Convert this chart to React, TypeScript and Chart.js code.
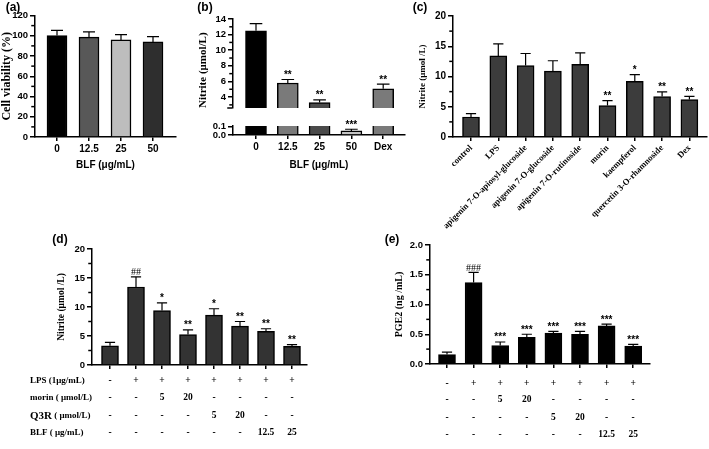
import React, { useEffect, useRef } from "react";
import { Chart, registerables } from "chart.js";

Chart.register(...registerables);

const SANS = "'Liberation Sans', Arial, Helvetica, sans-serif";
const SERIF = "'Liberation Serif', 'Times New Roman', Times, serif";

// ---------------- data ----------------
// (a) cell viability
const viabilityDoses = ["0", "12.5", "25", "50"];
const viabilityValues = [100.2, 98.6, 95.9, 93.9];
const viabilityErrors = [5.2, 5.2, 5.3, 5.3];
const viabilityMarks = ["", "", "", ""];
const viabilityColors = ["#000000", "#585858", "#bdbdbd", "#2e2e2e"];
const viabilityTicks = [0, 20, 40, 60, 80, 100, 120];

// (b) nitrite vs BLF (broken axis)
const blfNitriteLabels = ["0", "12.5", "25", "50", "Dex"];
const blfNitriteValues = [12.5, 5.8, 3.3, 0.05, 5.05];
const blfNitriteErrors = [0.9, 0.45, 0.35, 0.02, 0.6];
const blfNitriteMarks = ["", "**", "**", "***", "**"];
const blfNitriteColors = ["#000000", "#7a7a7a", "#4a4a4a", "#c4c4c4", "#7a7a7a"];
const blfUpperTicks = [4, 6, 8, 10, 12, 14];
const blfLowerTicks = [0, 0.1];

// (c) nitrite vs compounds
const compoundLabels = [
  "control",
  "LPS",
  "apigenin 7-O-apiosyl-glucoside",
  "apigenin 7-O-glucoside",
  "apigenin 7-O-rutinoside",
  "morin",
  "kaempferol",
  "quercetin 3-O-rhamnoside",
  "Dex",
];
const compoundValues = [3.3, 13.4, 11.8, 10.9, 12.0, 5.2, 9.2, 6.7, 6.2];
const compoundErrors = [0.55, 2.0, 2.0, 1.7, 1.9, 0.8, 1.1, 0.75, 0.5];
const compoundMarks = ["", "", "", "", "", "**", "*", "**", "**"];
const nitriteTicks = [0, 5, 10, 15, 20];

// (d) nitrite vs treatments
const treatmentNitriteValues = [3.3, 13.45, 9.4, 5.25, 8.6, 6.7, 5.8, 3.2];
const treatmentNitriteErrors = [0.6, 1.75, 1.3, 0.8, 1.1, 0.8, 0.45, 0.3];
const treatmentNitriteMarks = ["", "##", "*", "**", "*", "**", "**", "**"];

// (e) PGE2 vs treatments
const pge2Values = [0.16, 1.37, 0.31, 0.45, 0.52, 0.5, 0.64, 0.3];
const pge2Errors = [0.04, 0.17, 0.06, 0.05, 0.03, 0.05, 0.03, 0.03];
const pge2Marks = ["", "###", "***", "***", "***", "***", "***", "***"];
const pge2Ticks = [0, 0.5, 1, 1.5, 2];

// treatment table
const treatmentRowLabels = ["LPS (1μg/mL)", "morin ( μmol/L)", "Q3R ( μmol/L)", "BLF ( μg/mL)"];
const lpsRow = ["-", "+", "+", "+", "+", "+", "+", "+"];
const morinRow = ["-", "-", "5", "20", "-", "-", "-", "-"];
const q3rRow = ["-", "-", "-", "-", "5", "20", "-", "-"];
const blfRow = ["-", "-", "-", "-", "-", "-", "12.5", "25"];
const treatmentRows = [lpsRow, morinRow, q3rRow, blfRow];
const emptyLabels8 = ["", "", "", "", "", "", "", ""];

// ---------------- panel machinery ----------------
type Box = { x: number; y: number; w: number; h: number };
type Area = { l: number; t: number; r: number; b: number };
type TextItem = { text: string; x: number; y: number; font: string; align?: CanvasTextAlign };

interface PanelSpec {
  box: Box;
  area: Area;
  padLeft: number;
  values: number[];
  errors: number[];
  marks: string[];
  colors: string | string[];
  barWidth: number;
  firstX: number;
  stepX: number;
  xLabels: string[];
  xFont: { family: string; size: number; weight: string };
  xRotation: number;
  showX: boolean;
  xTitle?: string;
  yMin: number;
  yMax: number;
  yTicks: number[];
  yLabel: (v: number) => string;
  yMinorStep?: number;
  yEndTicks?: number[];
  yTitle?: string;
  yTitleSize?: number;
  yTitleAlign?: "start" | "center";
  yTickSize: number;
  texts: TextItem[];
  table?: {
    rows: string[][];
    ys: number[];
    rowLabels?: string[];
    rowLabelX?: number;
    leadSizes?: number[];
  };
  clip?: boolean;
}

function createPanel(canvas: HTMLCanvasElement, p: PanelSpec): Chart {
  const { box, area } = p;
  const yWidth = area.l - box.x - p.padLeft;
  const xHeight = box.y + box.h - area.b;
  const xMin = (area.l - p.firstX) / p.stepX;
  const xMax = (area.r - p.firstX) / p.stepX;
  const idx = p.values.map((_, i) => i);

  const extras = {
    id: "extras",
    afterDatasetsDraw(chart: any) {
      const ctx = chart.ctx as CanvasRenderingContext2D;
      const ys = chart.scales.y;
      const meta = chart.getDatasetMeta(0);
      ctx.save();
      ctx.strokeStyle = "#000";
      ctx.fillStyle = "#000";
      ctx.lineWidth = 1.2;
      ctx.textAlign = "center";
      ctx.textBaseline = "alphabetic";
      meta.data.forEach((el: any, i: number) => {
        const v = p.values[i];
        if (v < ys.min || v > ys.max) return;
        const e = p.errors[i] || 0;
        const x = el.x;
        const half = el.width * 0.3;
        const y0 = ys.getPixelForValue(v);
        const y1 = ys.getPixelForValue(v + e);
        ctx.beginPath();
        ctx.moveTo(x, y0);
        ctx.lineTo(x, y1);
        ctx.moveTo(x - half, y1);
        ctx.lineTo(x + half, y1);
        ctx.stroke();
        const m = p.marks[i];
        if (m) {
          ctx.font = m.startsWith("#") ? `10px ${SERIF}` : `bold 10px ${SANS}`;
          ctx.fillText(m, x, y1 - 1.5);
        }
      });
      ctx.restore();
    },
    afterDraw(chart: any) {
      const ctx = chart.ctx as CanvasRenderingContext2D;
      const ys = chart.scales.y;
      const xs = chart.scales.x;
      ctx.save();
      ctx.strokeStyle = "#000";
      ctx.fillStyle = "#000";
      ctx.lineWidth = 1.5;
      const ax = ys.right - 0.75;
      if (p.yMinorStep) {
        const step = p.yMinorStep;
        const start = Math.ceil(p.yMin / step - 1e-9);
        const end = Math.floor(p.yMax / step + 1e-9);
        for (let k = start; k <= end; k++) {
          const v = k * step;
          if (p.yTicks.some((t) => Math.abs(t - v) < 1e-9)) continue;
          const y = ys.getPixelForValue(v);
          ctx.beginPath();
          ctx.moveTo(ax, y);
          ctx.lineTo(ax - 3, y);
          ctx.stroke();
        }
      }
      (p.yEndTicks || []).forEach((v) => {
        const y = ys.getPixelForValue(v);
        ctx.beginPath();
        ctx.moveTo(ax, y);
        ctx.lineTo(ax - 5, y);
        ctx.stroke();
      });
      ctx.textBaseline = "middle";
      p.texts.forEach((t) => {
        ctx.font = t.font;
        ctx.textAlign = t.align || "center";
        ctx.fillText(t.text, t.x - box.x, t.y - box.y);
      });
      if (p.table) {
        const tb = p.table;
        ctx.font = `bold 9.5px ${SERIF}`;
        ctx.textAlign = "center";
        tb.rows.forEach((row, r) => {
          row.forEach((cell, j) => {
            ctx.fillText(cell, xs.getPixelForValue(j), tb.ys[r] - box.y);
          });
        });
        if (tb.rowLabels) {
          ctx.textAlign = "left";
          tb.rowLabels.forEach((lab, r) => {
            const sp = lab.indexOf(" ");
            const lead = sp > 0 ? lab.slice(0, sp) : lab;
            const rest = sp > 0 ? lab.slice(sp) : "";
            const lx = (tb.rowLabelX || 0) - box.x;
            const y = tb.ys[r] - box.y;
            const leadSize = tb.leadSizes ? tb.leadSizes[r] : 9;
            ctx.font = `bold ${leadSize}px ${SERIF}`;
            ctx.fillText(lead, lx, y);
            const w = ctx.measureText(lead).width;
            ctx.font = `bold 9px ${SERIF}`;
            ctx.fillText(rest, lx + w, y);
          });
        }
      }
      ctx.restore();
    },
  };

  const tickGrid = (len: number) => ({
    display: true,
    drawOnChartArea: false,
    drawTicks: true,
    tickLength: len,
    color: "#000",
    lineWidth: 1.5,
    offset: false,
  });

  const config: any = {
    type: "bar",
    data: {
      datasets: [
        {
          data: p.values.map((v, i) => ({ x: i, y: v })),
          backgroundColor: p.colors,
          borderColor: "#000",
          borderWidth: 1.5,
          barThickness: p.barWidth,
          ...(p.clip ? { clip: 0 } : {}),
        },
      ],
    },
    options: {
      responsive: false,
      maintainAspectRatio: false,
      animation: false,
      devicePixelRatio: 1,
      events: [],
      layout: {
        padding: {
          left: p.padLeft,
          top: area.t - box.y,
          right: box.x + box.w - area.r,
          bottom: p.showX ? 0 : box.y + box.h - area.b,
        },
      },
      plugins: {
        legend: { display: false },
        tooltip: { enabled: false },
        title: { display: false },
      },
      scales: {
        x: {
          type: "linear",
          min: xMin,
          max: xMax,
          offset: false,
          display: p.showX,
          afterBuildTicks: (s: any) => {
            s.ticks = idx.map((v) => ({ value: v }));
          },
          afterFit: (s: any) => {
            s.height = xHeight;
          },
          ticks: {
            autoSkip: false,
            maxRotation: p.xRotation,
            minRotation: p.xRotation,
            padding: 2,
            color: "#000",
            font: p.xFont,
            callback: (_v: any, i: number) => p.xLabels[i] ?? "",
          },
          grid: tickGrid(4),
          border: { display: true, color: "#000", width: 1.5 },
          title: p.xTitle
            ? {
                display: true,
                text: p.xTitle,
                color: "#000",
                font: { family: SANS, size: 10, weight: "bold" },
                padding: 0,
              }
            : { display: false },
        },
        y: {
          type: "linear",
          min: p.yMin,
          max: p.yMax,
          afterBuildTicks: (s: any) => {
            s.ticks = p.yTicks.map((v) => ({ value: v }));
          },
          afterFit: (s: any) => {
            s.width = yWidth;
          },
          ticks: {
            autoSkip: false,
            padding: 2,
            color: "#000",
            font: { family: SANS, size: p.yTickSize, weight: "bold" },
            callback: (v: any) => p.yLabel(Number(v)),
          },
          grid: tickGrid(5),
          border: { display: true, color: "#000", width: 1.5 },
          title: p.yTitle
            ? {
                display: true,
                text: p.yTitle,
                color: "#000",
                align: p.yTitleAlign || "center",
                font: { family: SERIF, size: p.yTitleSize || 10, weight: "bold" },
                padding: 0,
              }
            : { display: false },
        },
      },
    },
    plugins: [extras],
  };
  return new Chart(canvas, config);
}

const labelFont = `bold 12px ${SANS}`;
const xTickFont = { family: SANS, size: 10, weight: "bold" };
const num = (v: number) => String(v);
const fix1 = (v: number) => v.toFixed(1);

const panels: PanelSpec[] = [
  // (a)
  {
    box: { x: 0, y: 0, w: 195, h: 171 },
    area: { l: 35, t: 15.5, r: 176, b: 137 },
    padLeft: 0,
    values: viabilityValues,
    errors: viabilityErrors,
    marks: viabilityMarks,
    colors: viabilityColors,
    barWidth: 20,
    firstX: 57,
    stepX: 32,
    xLabels: viabilityDoses,
    xFont: xTickFont,
    xRotation: 0,
    showX: true,
    xTitle: "BLF (μg/mL)",
    yMin: 0,
    yMax: 120,
    yTicks: viabilityTicks,
    yLabel: num,
    yMinorStep: 10,
    yTitle: "Cell viability (%)",
    yTitleSize: 12,
    yTitleAlign: "center",
    yTickSize: 9.5,
    texts: [{ text: "(a)", x: 13, y: 8, font: labelFont }],
  },
  // (b) upper segment
  {
    box: { x: 190, y: 0, w: 225, h: 124 },
    area: { l: 233, t: 19, r: 405, b: 116 },
    padLeft: 6.4,
    values: blfNitriteValues,
    errors: blfNitriteErrors,
    marks: blfNitriteMarks,
    colors: blfNitriteColors,
    barWidth: 21,
    firstX: 256,
    stepX: 31.8,
    xLabels: blfNitriteLabels,
    xFont: xTickFont,
    xRotation: 0,
    showX: false,
    yMin: 2.6,
    yMax: 14,
    yTicks: blfUpperTicks,
    yLabel: num,
    yMinorStep: 1,
    yEndTicks: [2.6],
    yTitle: "Nitrite (μmol/L)",
    yTitleSize: 11,
    yTitleAlign: "start",
    yTickSize: 9.5,
    texts: [{ text: "(b)", x: 205, y: 8, font: labelFont }],
    clip: true,
  },
  // (b) lower segment
  {
    box: { x: 190, y: 105, w: 225, h: 66 },
    area: { l: 233, t: 126, r: 405, b: 135 },
    padLeft: 6.4,
    values: blfNitriteValues,
    errors: blfNitriteErrors,
    marks: blfNitriteMarks,
    colors: blfNitriteColors,
    barWidth: 21,
    firstX: 256,
    stepX: 31.8,
    xLabels: blfNitriteLabels,
    xFont: xTickFont,
    xRotation: 0,
    showX: true,
    xTitle: "BLF (μg/mL)",
    yMin: 0,
    yMax: 0.11,
    yTicks: blfLowerTicks,
    yLabel: fix1,
    yTickSize: 9.5,
    texts: [],
    clip: true,
  },
  // (c)
  {
    box: { x: 400, y: 0, w: 309, h: 250 },
    area: { l: 453, t: 16, r: 707, b: 137 },
    padLeft: 17.6,
    values: compoundValues,
    errors: compoundErrors,
    marks: compoundMarks,
    colors: "#3c3c3c",
    barWidth: 17,
    firstX: 471,
    stepX: 27.3,
    xLabels: compoundLabels,
    xFont: { family: SERIF, size: 8.7, weight: "bold" },
    xRotation: 45,
    showX: true,
    yMin: 0,
    yMax: 20,
    yTicks: nitriteTicks,
    yLabel: num,
    yMinorStep: 2.5,
    yTitle: "Nitrite (μmol /L)",
    yTitleSize: 9,
    yTickSize: 10,
    texts: [{ text: "(c)", x: 420, y: 8, font: labelFont }],
  },
  // (d)
  {
    box: { x: 0, y: 228, w: 360, h: 221 },
    area: { l: 92, t: 249, r: 307, b: 365 },
    padLeft: 56.3,
    values: treatmentNitriteValues,
    errors: treatmentNitriteErrors,
    marks: treatmentNitriteMarks,
    colors: "#333333",
    barWidth: 17,
    firstX: 110,
    stepX: 26,
    xLabels: emptyLabels8,
    xFont: xTickFont,
    xRotation: 0,
    showX: true,
    yMin: 0,
    yMax: 20,
    yTicks: nitriteTicks,
    yLabel: num,
    yMinorStep: 2.5,
    yTitle: "Nitrite (μmol /L)",
    yTitleSize: 9.5,
    yTickSize: 9.5,
    texts: [{ text: "(d)", x: 60, y: 240, font: labelFont }],
    table: {
      rows: treatmentRows,
      ys: [381, 398, 416, 433],
      rowLabels: treatmentRowLabels,
      rowLabelX: 30,
      leadSizes: [9, 9, 11, 9],
    },
  },
  // (e)
  {
    box: { x: 355, y: 228, w: 354, h: 221 },
    area: { l: 430, t: 245, r: 650, b: 364 },
    padLeft: 38,
    values: pge2Values,
    errors: pge2Errors,
    marks: pge2Marks,
    colors: "#000000",
    barWidth: 17,
    firstX: 447,
    stepX: 26.6,
    xLabels: emptyLabels8,
    xFont: xTickFont,
    xRotation: 0,
    showX: true,
    yMin: 0,
    yMax: 2,
    yTicks: pge2Ticks,
    yLabel: fix1,
    yMinorStep: 0.25,
    yTitle: "PGE2 (ng /mL)",
    yTitleSize: 10,
    yTickSize: 9.5,
    texts: [{ text: "(e)", x: 392, y: 240, font: labelFont }],
    table: {
      rows: treatmentRows,
      ys: [384, 400, 418, 435],
    },
  },
];

function PanelCanvas({ spec }: { spec: PanelSpec }) {
  const ref = useRef<HTMLCanvasElement>(null);
  useEffect(() => {
    if (!ref.current) return;
    const chart = createPanel(ref.current, spec);
    return () => chart.destroy();
  }, [spec]);
  const { box } = spec;
  return (
    <canvas
      ref={ref}
      width={box.w}
      height={box.h}
      style={{ position: "absolute", left: box.x, top: box.y, width: box.w, height: box.h }}
    />
  );
}

export default function App() {
  return (
    <div
      style={{
        position: "absolute",
        left: 0,
        top: 0,
        width: 709,
        height: 449,
        background: "#fff",
        overflow: "hidden",
      }}
    >
      {panels.map((p, i) => (
        <PanelCanvas key={i} spec={p} />
      ))}
    </div>
  );
}
